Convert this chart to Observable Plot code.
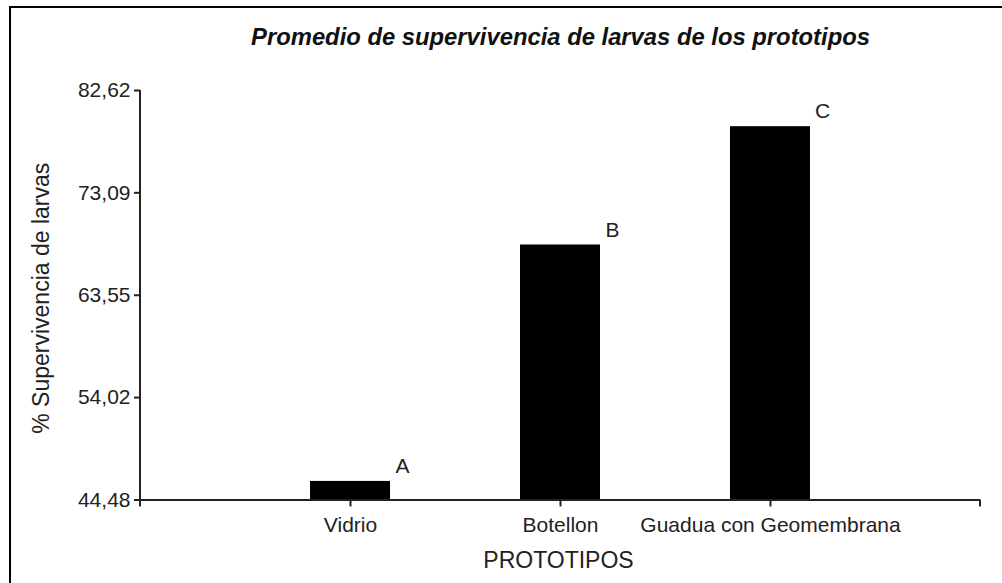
<!DOCTYPE html>
<html><head><meta charset="utf-8">
<script src="https://cdn.jsdelivr.net/npm/d3@7"></script>
<script src="https://cdn.jsdelivr.net/npm/@observablehq/plot@0.6"></script>
<style>
html,body{margin:0;padding:0;background:#fff;}
#wrap{position:relative;width:1002px;height:583px;overflow:hidden;background:#fff;}
#border{position:absolute;left:9px;top:6px;width:2000px;height:2000px;border-left:2px solid #000;border-top:2px solid #000;}
#chart{position:absolute;left:0;top:0;}
</style></head><body>
<div id="wrap"><div id="border"></div><div id="chart"></div></div>
<script>
const categories = ["Vidrio", "Botellon", "Guadua con Geomembrana"];
const survival = [46.21, 68.23, 79.25];
const groupLetters = ["A", "B", "C"];
const yTicks = [44.48, 54.02, 63.55, 73.09, 82.62];
const title = "Promedio de supervivencia de larvas de los prototipos";
const yLabel = "% Supervivencia de larvas";
const xLabel = "PROTOTIPOS";

const data = categories.map((c, i) => ({cat: c, value: survival[i], letter: groupLetters[i]}));
const font = "'Liberation Sans', Arial, sans-serif";
const axisColor = "#222";

function axisFrame(index, scales, values, dims) {
  const ns = "http://www.w3.org/2000/svg";
  const g = document.createElementNS(ns, "g");
  const x0 = dims.marginLeft, x1 = dims.width - dims.marginRight;
  const y0 = dims.marginTop, y1 = dims.height - dims.marginBottom;
  const segs = [[x0, y0, x0, y1 + 7], [x1, y1, x1, y1 + 7]];
  for (const [a, b, c, d] of segs) {
    const l = document.createElementNS(ns, "line");
    l.setAttribute("x1", a); l.setAttribute("y1", b);
    l.setAttribute("x2", c); l.setAttribute("y2", d);
    l.setAttribute("stroke", axisColor);
    l.setAttribute("stroke-width", 2);
    g.appendChild(l);
  }
  return g;
}

const chart = Plot.plot({
  width: 1002,
  height: 583,
  marginLeft: 140,
  marginRight: 22,
  marginTop: 90,
  marginBottom: 83.5,
  style: {fontFamily: font, fontSize: "21px", color: "#222", background: "transparent"},
  x: {domain: categories, paddingInner: 0.619, paddingOuter: 0.8095, label: null},
  y: {domain: [yTicks[0], yTicks[yTicks.length - 1]], label: null},
  marks: [
    Plot.barY(data, {x: "cat", y1: yTicks[0], y2: "value", fill: "#000"}),
    Plot.ruleY([yTicks[0]], {stroke: axisColor, strokeWidth: 2}),
    axisFrame,
    Plot.axisY({ticks: yTicks, tickFormat: d => d.toFixed(2).replace(".", ","), tickSize: 6, tickPadding: 4, fontSize: 21, label: null, stroke: axisColor, strokeWidth: 2}),
    Plot.axisX({tickSize: 7, tickPadding: 10, fontSize: 21, label: null, stroke: axisColor, strokeWidth: 2}),
    Plot.text(data, {x: "cat", y: "value", text: "letter", dx: 52, dy: -15, fontSize: 21, fill: "#222"}),
    Plot.text([title], {frameAnchor: "top", lineAnchor: "middle", textAnchor: "middle", dy: -53, fontSize: 23.8, fontWeight: "bold", fontStyle: "italic", fill: "#111"}),
    Plot.text([yLabel], {frameAnchor: "left", lineAnchor: "middle", textAnchor: "middle", dx: -99, dy: 3, rotate: -90, fontSize: 23, fill: "#222"}),
    Plot.text([xLabel], {frameAnchor: "bottom", lineAnchor: "middle", textAnchor: "middle", dx: -2, dy: 60.5, fontSize: 23, fill: "#222"})
  ]
});
document.getElementById("chart").appendChild(chart);
</script>
</body></html>
